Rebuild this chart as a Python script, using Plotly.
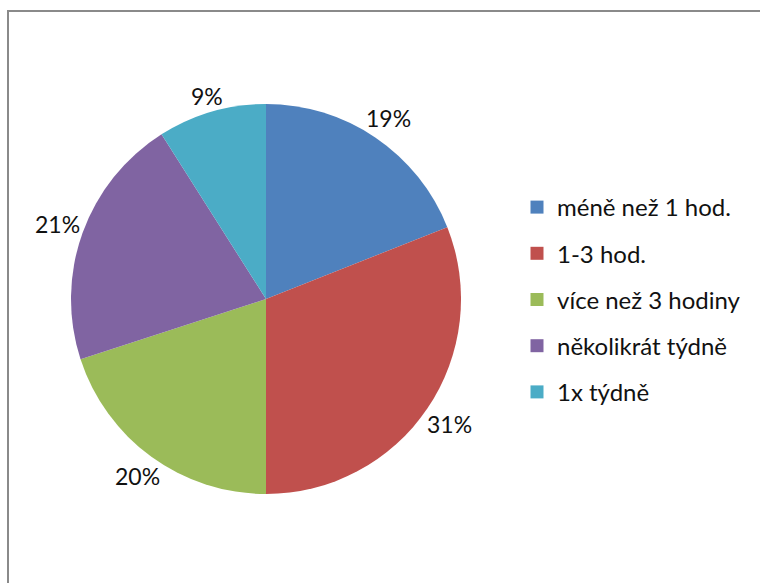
import numpy as np
import plotly.graph_objects as go

labels = ["méně než 1 hod.", "1-3 hod.", "více než 3 hodiny", "několikrát týdně", "1x týdně"]
values = [19, 31, 20, 21, 9]
colors = ["#4F81BD", "#C0504D", "#9BBB59", "#8064A2", "#4BACC6"]

W, H = 760, 583
cx, cy, R = 266, 299, 195   # pie centre and radius in px
gap = 3                     # space between pie edge and label box
fsize = 23
font = "Lato, 'Open Sans', sans-serif"

fig = go.Figure()
fig.add_trace(go.Pie(
    labels=labels, values=values, sort=False, direction="clockwise",
    rotation=0, marker=dict(colors=colors), textinfo="none",
    hoverinfo="label+percent", showlegend=False,
    domain=dict(x=[(cx - R) / W, (cx + R) / W], y=[1 - (cy + R) / H, 1 - (cy - R) / H]),
))

# percent labels outside the pie, at each slice's mid-angle
vals = np.array(values, dtype=float)
frac = vals / vals.sum()
mid = (np.cumsum(frac) - frac / 2) * 2 * np.pi
for f, a in zip(frac, mid):
    txt = f"{round(f * 100)}%"
    s, c = np.sin(a), np.cos(a)
    w, h = 0.64 * fsize * len(txt), 0.85 * fsize
    d = R + gap + w / 2 * abs(s) + h / 2 * abs(c)
    px = cx + d * s
    py = cy - d * c
    fig.add_annotation(x=px / W, y=1 - py / H, xref="paper", yref="paper",
                       xanchor="center", yanchor="middle",
                       text=txt, showarrow=False,
                       font=dict(family=font, size=fsize, color="#111"))

# legend entries, one group each so they can be spaced out
for lab, col in zip(labels, colors):
    fig.add_trace(go.Scatter(x=[None], y=[None], mode="markers", name=lab,
                             legendgroup=lab,
                             marker=dict(symbol="square", size=13, color=col)))

# chart frame
fig.add_shape(type="rect", xref="paper", yref="paper",
              x0=8 / W, y0=-0.05, x1=1.05, y1=1 - 11 / H,
              line=dict(color="#8a8a8a", width=2))

fig.update_layout(
    width=W, height=H, margin=dict(l=0, r=0, t=0, b=0),
    paper_bgcolor="white", plot_bgcolor="white",
    xaxis=dict(visible=False), yaxis=dict(visible=False),
    legend=dict(x=517 / W, y=1 - 185 / H, xanchor="left", yanchor="top",
                tracegroupgap=12, itemwidth=30,
                font=dict(family=font, size=24, color="#111")),
)

fig.write_html("out.html", config={"displayModeBar": False},
               post_script="document.body.style.margin='0';")
